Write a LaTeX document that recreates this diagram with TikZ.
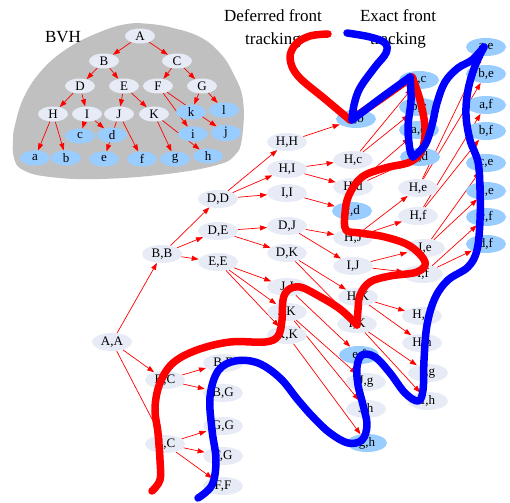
\documentclass[tikz,border=0pt]{standalone}
\usepackage{fontspec}
\setmainfont{Liberation Serif}
\usetikzlibrary{shapes.geometric,arrows.meta}
\definecolor{nodefill}{RGB}{230,235,246}
\definecolor{leaffill}{RGB}{153,204,255}
\definecolor{blobgray}{RGB}{192,192,192}
\pgfdeclarelayer{bg}
\pgfdeclarelayer{edgelayer}
\pgfsetlayers{bg,edgelayer,main}
\tikzset{
  inner/.style={ellipse, fill=nodefill, minimum width=40pt, minimum height=18pt, inner sep=0pt, font=\fontsize{13}{15}\selectfont},
  leaf/.style={inner, fill=leaffill},
  tinner/.style={inner, minimum width=30pt, minimum height=15pt},
  tleaf/.style={tinner, fill=leaffill},
  edge/.style={draw=red, line width=0.7pt, -{Triangle[length=7pt,width=5pt]}},
  thickred/.style={draw=red, line width=7.5pt, line cap=round, line join=round},
  thickblue/.style={draw=blue, line width=7.5pt, line cap=round, line join=round},
  title/.style={align=center, inner sep=0pt, font=\fontsize{17}{23}\selectfont}
}
\begin{document}
\begin{tikzpicture}[x=1pt,y=-1pt]
\useasboundingbox (0,0) rectangle (510,502);
\begin{pgfonlayer}{bg}
\fill[blobgray] plot[smooth cycle, tension=0.7] coordinates {(127,24) (150,24) (173,28) (200,37) (220,53) (233,73) (243,100) (242,138) (235,155) (217,165) (167,174) (100,179) (50,177) (23,170) (14,158) (13,140) (15,125) (24,97) (42,70) (68,48) (100,32)};
\end{pgfonlayer}
% titles
\node[title] (bvh) at (63,37) {BVH};
\node[title] (dft) at (273,29) {Deferred front\\tracking};
\node[title] (eft) at (398,29) {Exact front\\tracking};
% BVH tree
\node[tinner] (tA) at (140,36) {A};
\node[tinner] (tB) at (104,61) {B};
\node[tinner] (tC) at (177,61) {C};
\node[tinner] (tD) at (80,86) {D};
\node[tinner] (tE) at (124,86) {E};
\node[tinner] (tF) at (158,86) {F};
\node[tinner] (tG) at (202,86) {G};
\node[tinner] (tH) at (53,114) {H};
\node[tinner] (tI) at (87,114) {I};
\node[tinner] (tJ) at (119,114) {J};
\node[tinner] (tK) at (154,114) {K};
\node[tleaf] (tk) at (191,112) {k};
\node[tleaf] (tl) at (224,110) {l};
\node[tleaf] (tc) at (80,136) {c};
\node[tleaf] (td) at (112,135) {d};
\node[tleaf] (ti) at (193,134) {i};
\node[tleaf] (tj) at (226,133) {j};
\node[tleaf] (ta) at (35,158) {a};
\node[tleaf] (tb) at (66,158) {b};
\node[tleaf] (te) at (104,159) {e};
\node[tleaf] (tf) at (142,159) {f};
\node[tleaf] (tg) at (175,159) {g};
\node[tleaf] (th) at (208,156) {h};
% BVTT
\node[inner] (AA) at (112,342) {A,A};
\node[inner] (BB) at (162,254) {B,B};
\node[inner] (BC) at (165,380) {B,C};
\node[inner] (CC) at (165,444) {C,C};
\node[inner] (DD) at (218,199) {D,D};
\node[inner] (DE) at (218,231) {D,E};
\node[inner] (EE) at (218,262) {E,E};
\node[inner] (BF) at (223,363) {B,F};
\node[inner] (BG) at (223,393) {B,G};
\node[inner] (GG) at (223,426) {G,G};
\node[inner] (FG) at (223,456) {F,G};
\node[inner] (FF) at (223,486) {F,F};
\node[inner] (HH) at (287,142) {H,H};
\node[inner] (HI) at (287,169) {H,I};
\node[inner] (II) at (287,193) {I,I};
\node[inner] (DJ) at (287,226) {D,J};
\node[inner] (DK) at (287,253) {D,K};
\node[inner] (JJ) at (287,287) {J,J};
\node[inner] (JK) at (287,312) {J,K};
\node[inner] (KK) at (287,335) {K,K};
\node[leaf] (ab) at (356,119) {a,b};
\node[inner] (Hc) at (353,160) {H,c};
\node[inner] (Hd) at (353,187) {H,d};
\node[leaf] (cd) at (352,211) {c,d};
\node[inner] (HJ) at (353,238) {H,J};
\node[inner] (IJ) at (353,266) {I,J};
\node[inner] (HK) at (358,297) {H,K};
\node[inner] (IK) at (357,324) {I,K};
\node[leaf] (ef) at (359,355) {e,f};
\node[inner] (Jg) at (366,382) {J,g};
\node[inner] (Jh) at (366,409) {J,h};
\node[leaf] (gh) at (367,443) {g,h};
\node[leaf] (ac) at (419,80) {a,c};
\node[leaf] (bc) at (419,107) {b,c};
\node[leaf] (ad) at (419,130) {a,d};
\node[leaf] (bd) at (420,157) {b,d};
\node[inner] (He) at (418,188) {H,e};
\node[inner] (Hf) at (418,216) {H,f};
\node[inner] (Ie) at (425,248) {I,e};
\node[inner] (If) at (423,274) {I,f};
\node[inner] (Hg) at (422,316) {H,g};
\node[inner] (Hh) at (422,343) {H,h};
\node[inner] (Ig) at (428,373) {I,g};
\node[inner] (Ih) at (428,401) {I,h};
\node[leaf] (ae) at (486,47) {a,e};
\node[leaf] (be) at (486,74) {b,e};
\node[leaf] (af) at (486,105) {a,f};
\node[leaf] (bf) at (486,131) {b,f};
\node[leaf] (ce) at (486,163) {c,e};
\node[leaf] (de) at (486,191) {d,e};
\node[leaf] (cf) at (486,217) {c,f};
\node[leaf] (df) at (486,244) {d,f};
\begin{pgfonlayer}{edgelayer}
\foreach \a/\b in {tA/tB,tA/tC,tB/tD,tB/tE,tC/tF,tC/tG,tD/tH,tD/tI,tE/tJ,tE/tK,tF/ti,tF/tj,tG/tk,tG/tl,tH/ta,tH/tb,tI/tc,tI/td,tJ/te,tJ/tf,tK/tg,tK/th,
  AA/BB,AA/BC,AA/CC,BB/DD,BB/DE,BB/EE,BC/BF,BC/BG,CC/GG,CC/FG,CC/FF,DD/HH,DD/HI,DD/II,DE/DJ,DE/DK,EE/JJ,EE/JK,EE/KK,
  HH/ab,HI/Hc,HI/Hd,II/cd,DJ/HJ,DJ/IJ,DK/HK,DK/IK,JJ/ef,JK/Jg,JK/Jh,KK/gh,
  Hc/ac,Hc/bc,Hd/ad,Hd/bd,HJ/He,HJ/Hf,IJ/Ie,IJ/If,HK/Hg,HK/Hh,IK/Ig,IK/Ih,
  He/ae,He/be,Hf/af,Hf/bf,Ie/ce,Ie/de,If/cf,If/df}
  \draw[edge] (\a) -- (\b);
\end{pgfonlayer}
% thick front curves
\draw[thickred] plot[smooth, tension=0.6] coordinates {(328,34) (310,36) (296,44) (290,58) (298,76) (325,99) (350,120)};
\draw[thickred] plot[smooth, tension=0.6] coordinates {(350,120) (381,99) (412,77)};
\draw[thickred] plot[smooth, tension=0.6] coordinates {(412,77) (420,100) (425,128) (422,150) (410,162) (385,168) (362,177) (349,195) (345,213) (346,230) (360,233) (385,237) (410,246) (425,262) (417,272) (390,276) (370,282) (360,295) (358,310) (357,325)};
\draw[thickred] plot[smooth, tension=0.6] coordinates {(357,325) (340,309) (317,295) (300,287) (288,290) (283,300) (282,320) (278,336) (265,342) (230,342) (197,350) (173,363) (160,383) (155,408) (158,433) (160,460) (160,480) (152,491)};
\draw[thickblue] plot[smooth, tension=0.6] coordinates {(347,33) (370,37) (385,43) (386,53) (375,67) (360,88) (354,105) (352,120)};
\draw[thickblue] plot[smooth, tension=0.6] coordinates {(352,120) (381,98) (410,77)};
\draw[thickblue] plot[smooth, tension=0.6] coordinates {(410,77) (411,100) (408,127) (410,150) (413,157)};
\draw[thickblue] plot[smooth, tension=0.6] coordinates {(413,157) (425,145) (432,125) (437,103) (445,82) (458,68) (472,60) (484,47)};
\draw[thickblue] plot[smooth, tension=0.6] coordinates {(484,47) (475,66) (468,90) (466,115) (470,140) (478,162) (480,190) (480,220) (477,250) (468,267) (448,280) (435,298) (427,325) (424,360) (423,390) (418,401) (405,393) (390,373) (375,357) (362,355) (357,367) (358,385) (363,405) (367,425) (362,440) (348,443) (330,433) (313,417) (298,400) (280,378) (258,363) (235,361) (218,371) (210,397) (212,430) (216,460) (212,485) (198,498)};
\end{tikzpicture}
\end{document}
